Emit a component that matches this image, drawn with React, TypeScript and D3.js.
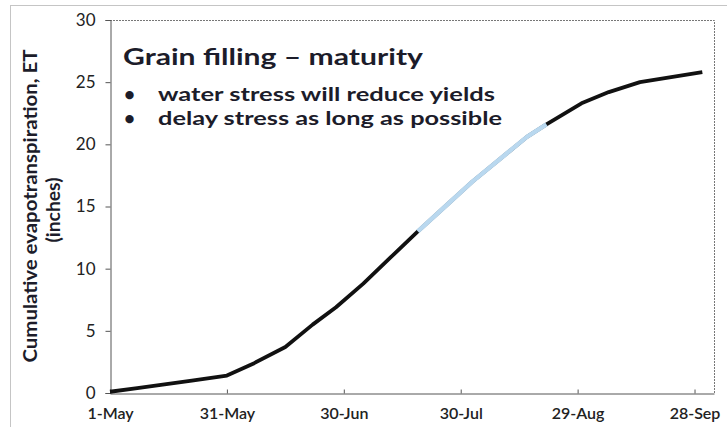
import React, { useEffect, useRef } from 'react';
import * as d3 from 'd3';

// cumulative ET readings (inches), 2013 season
const dates = [
  '2013-05-01', '2013-05-08', '2013-05-15', '2013-05-22', '2013-05-31',
  '2013-06-07', '2013-06-15', '2013-06-22', '2013-06-28', '2013-07-05',
  '2013-07-12', '2013-07-19', '2013-07-26', '2013-08-02', '2013-08-09',
  '2013-08-16', '2013-08-21', '2013-08-30', '2013-09-06', '2013-09-14',
  '2013-09-22', '2013-09-30',
];
const et = [
  0.1, 0.4, 0.7, 1.0, 1.4,
  2.4, 3.7, 5.5, 6.9, 8.8,
  10.9, 13.0, 15.0, 17.0, 18.8,
  20.6, 21.6, 23.3, 24.2, 25.0,
  25.4, 25.8,
];
// grain filling window highlighted in blue
const stressStart = '2013-07-19';
const stressEnd = '2013-08-21';

const xTicks = ['2013-05-01', '2013-05-31', '2013-06-30', '2013-07-30', '2013-08-29', '2013-09-28'];
const yTicks = [0, 5, 10, 15, 20, 25, 30];

const title = 'Grain filling \u2013 maturity';
const bullets = ['water stress will reduce yields', 'delay stress as long as possible'];
const yLabel = ['Cumulative evapotranspiration, ET', '(inches)'];

const W = 727;
const H = 427;
const FONT = "Lato, 'Open Sans', sans-serif";

export default function App() {
  const svgRef = useRef<SVGSVGElement>(null);

  useEffect(() => {
    if (!svgRef.current) return;
    const svg = d3.select(svgRef.current);
    svg.selectAll('*').remove();

    const parse = d3.timeParse('%Y-%m-%d');
    const data = dates.map((d, i) => ({ date: parse(d)!, v: et[i] }));

    const left = 110, right = 714, top = 20, bottom = 393;

    const x = d3.scaleTime()
      .domain([parse('2013-05-01')!, parse('2013-10-03')!])
      .range([left, right]);
    const y = d3.scaleLinear().domain([0, 30]).range([bottom, top]);

    // outer frame (scanned slide border)
    svg.append('rect')
      .attr('x', 10.5).attr('y', 5.5)
      .attr('width', 730).attr('height', 440)
      .attr('fill', 'none')
      .attr('stroke', '#8a8a8a')
      .attr('stroke-dasharray', '1,1');

    // plot frame top/right
    svg.append('path')
      .attr('d', `M${left},${top + 0.5}H${right + 0.5}V${bottom}`)
      .attr('fill', 'none')
      .attr('stroke', '#777')
      .attr('stroke-dasharray', '2,1');

    // y axis
    const yAxis = svg.append('g')
      .attr('transform', `translate(${left + 0.5},0)`)
      .call(d3.axisLeft(y).tickValues(yTicks).tickSize(5).tickPadding(10));
    yAxis.select('.domain').attr('stroke', '#555');
    yAxis.selectAll('.tick line').attr('stroke', '#555');
    yAxis.selectAll('.tick text')
      .attr('font-family', FONT)
      .attr('font-size', 17)
      .attr('fill', '#222');

    // x axis
    const xAxis = svg.append('g')
      .attr('transform', `translate(0,${bottom + 0.5})`)
      .call(d3.axisBottom(x)
        .tickValues(xTicks.map(d => parse(d)!))
        .tickFormat(d3.timeFormat('%-d-%b') as any)
        .tickSizeInner(-4).tickSizeOuter(0).tickPadding(14));
    xAxis.select('.domain').attr('stroke', '#555');
    xAxis.selectAll('.tick line').attr('stroke', '#555');
    xAxis.selectAll('.tick text')
      .attr('font-family', FONT)
      .attr('font-size', 16)
      .attr('font-weight', 600)
      .attr('fill', '#222');

    // y axis title, two lines
    const yLabelLen = [313, 65];
    yLabel.forEach((t, i) => {
      svg.append('text')
        .attr('transform', `translate(${37 + i * 23},${i === 0 ? 206 : 210}) rotate(-90)`)
        .attr('text-anchor', 'middle')
        .attr('font-family', FONT)
        .attr('font-size', 19)
        .attr('font-weight', 700)
        .attr('fill', '#1c1c2a')
        .attr('textLength', yLabelLen[i])
        .attr('lengthAdjust', 'spacingAndGlyphs')
        .text(t);
    });

    const line = d3.line<{ date: Date; v: number }>()
      .x(d => x(d.date))
      .y(d => y(d.v));

    svg.append('path')
      .datum(data)
      .attr('d', line)
      .attr('fill', 'none')
      .attr('stroke', '#111')
      .attr('stroke-width', 3.8)
      .attr('stroke-linejoin', 'round');

    const s0 = parse(stressStart)!, s1 = parse(stressEnd)!;
    svg.append('path')
      .datum(data.filter(d => d.date >= s0 && d.date <= s1))
      .attr('d', line)
      .attr('fill', 'none')
      .attr('stroke', '#b9d8ef')
      .attr('stroke-width', 4.5)
      .attr('stroke-linejoin', 'round');

    // annotation block
    svg.append('text')
      .attr('x', 123).attr('y', 65)
      .attr('font-family', FONT)
      .attr('font-size', 23)
      .attr('font-weight', 700)
      .attr('fill', '#1c1c2a')
      .attr('textLength', 300)
      .attr('lengthAdjust', 'spacingAndGlyphs')
      .text(title);

    const bulletLen = [337, 344];
    bullets.forEach((b, i) => {
      const by = 101 + i * 24;
      svg.append('text')
        .attr('x', 124).attr('y', by)
        .attr('font-family', FONT)
        .attr('font-size', 19)
        .attr('font-weight', 700)
        .attr('fill', '#1c1c2a')
        .text('\u2022');
      svg.append('text')
        .attr('x', 158).attr('y', by)
        .attr('font-family', FONT)
        .attr('font-size', 19)
        .attr('font-weight', 700)
        .attr('fill', '#1c1c2a')
        .attr('textLength', bulletLen[i])
        .attr('lengthAdjust', 'spacingAndGlyphs')
        .text(b);
    });
  }, []);

  return (
    <svg
      ref={svgRef}
      width={W}
      height={H}
      style={{ position: 'absolute', left: 0, top: 0, background: '#fff' }}
    />
  );
}
